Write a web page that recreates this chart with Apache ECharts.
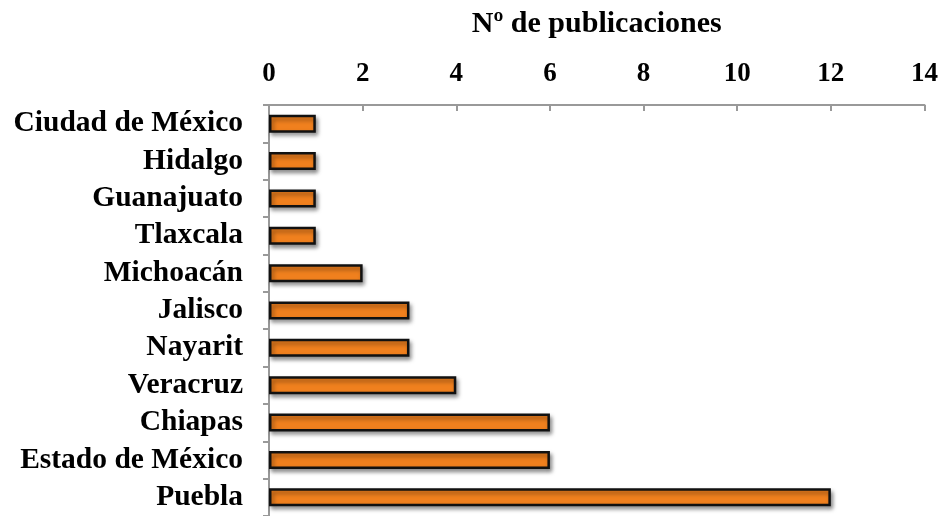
<!DOCTYPE html>
<html>
<head>
<meta charset="utf-8">
<script src="https://cdn.jsdelivr.net/npm/echarts@6/dist/echarts.min.js"></script>
<style>
  html, body { margin: 0; padding: 0; background: #fff; }
  #chart { width: 941px; height: 516px; }
</style>
</head>
<body>
<div id="chart"></div>
<script>
// Publications per Mexican state
const states = [
  'Ciudad de México', 'Hidalgo', 'Guanajuato', 'Tlaxcala', 'Michoacán',
  'Jalisco', 'Nayarit', 'Veracruz', 'Chiapas', 'Estado de México', 'Puebla'
];
const publications = [1, 1, 1, 1, 2, 3, 3, 4, 6, 6, 12];
const axisTitle = 'Nº de publicaciones';

const serif = '"Liberation Serif", "DejaVu Serif", serif';
const chart = echarts.init(document.getElementById('chart'));
chart.setOption({
  animation: false,
  // plot area runs slightly past the bottom edge of the canvas
  grid: { left: 269, right: 16, top: 105, height: 414, containLabel: false },
  xAxis: {
    type: 'value',
    position: 'top',
    min: 0, max: 14, interval: 2,
    name: axisTitle,
    nameLocation: 'middle',
    nameGap: 66,
    nameTextStyle: { fontFamily: serif, fontWeight: 'bold', fontSize: 30, color: '#000' },
    axisLine: { show: true, lineStyle: { color: '#999', width: 2 } },
    axisTick: { show: true, inside: true, length: 6, lineStyle: { color: '#999', width: 2 } },
    axisLabel: { fontFamily: serif, fontWeight: 'bold', fontSize: 27, color: '#000', margin: 17 },
    splitLine: { show: false }
  },
  yAxis: {
    type: 'category',
    inverse: true,
    data: states,
    axisLine: { show: true, lineStyle: { color: '#999', width: 2 } },
    axisTick: { show: true, length: 6, lineStyle: { color: '#999', width: 2 } },
    axisLabel: { interval: 0, fontFamily: serif, fontWeight: 'bold', fontSize: 29.5, color: '#000', margin: 26 }
  },
  series: [{
    type: 'bar',
    data: publications,
    barWidth: 18,
    itemStyle: {
      color: '#F0801E',
      borderColor: '#111',
      borderWidth: 2.5,
      shadowColor: 'rgba(0,0,0,0.4)',
      shadowBlur: 4,
      shadowOffsetX: 2,
      shadowOffsetY: 3
    }
  }]
});
</script>
</body>
</html>
